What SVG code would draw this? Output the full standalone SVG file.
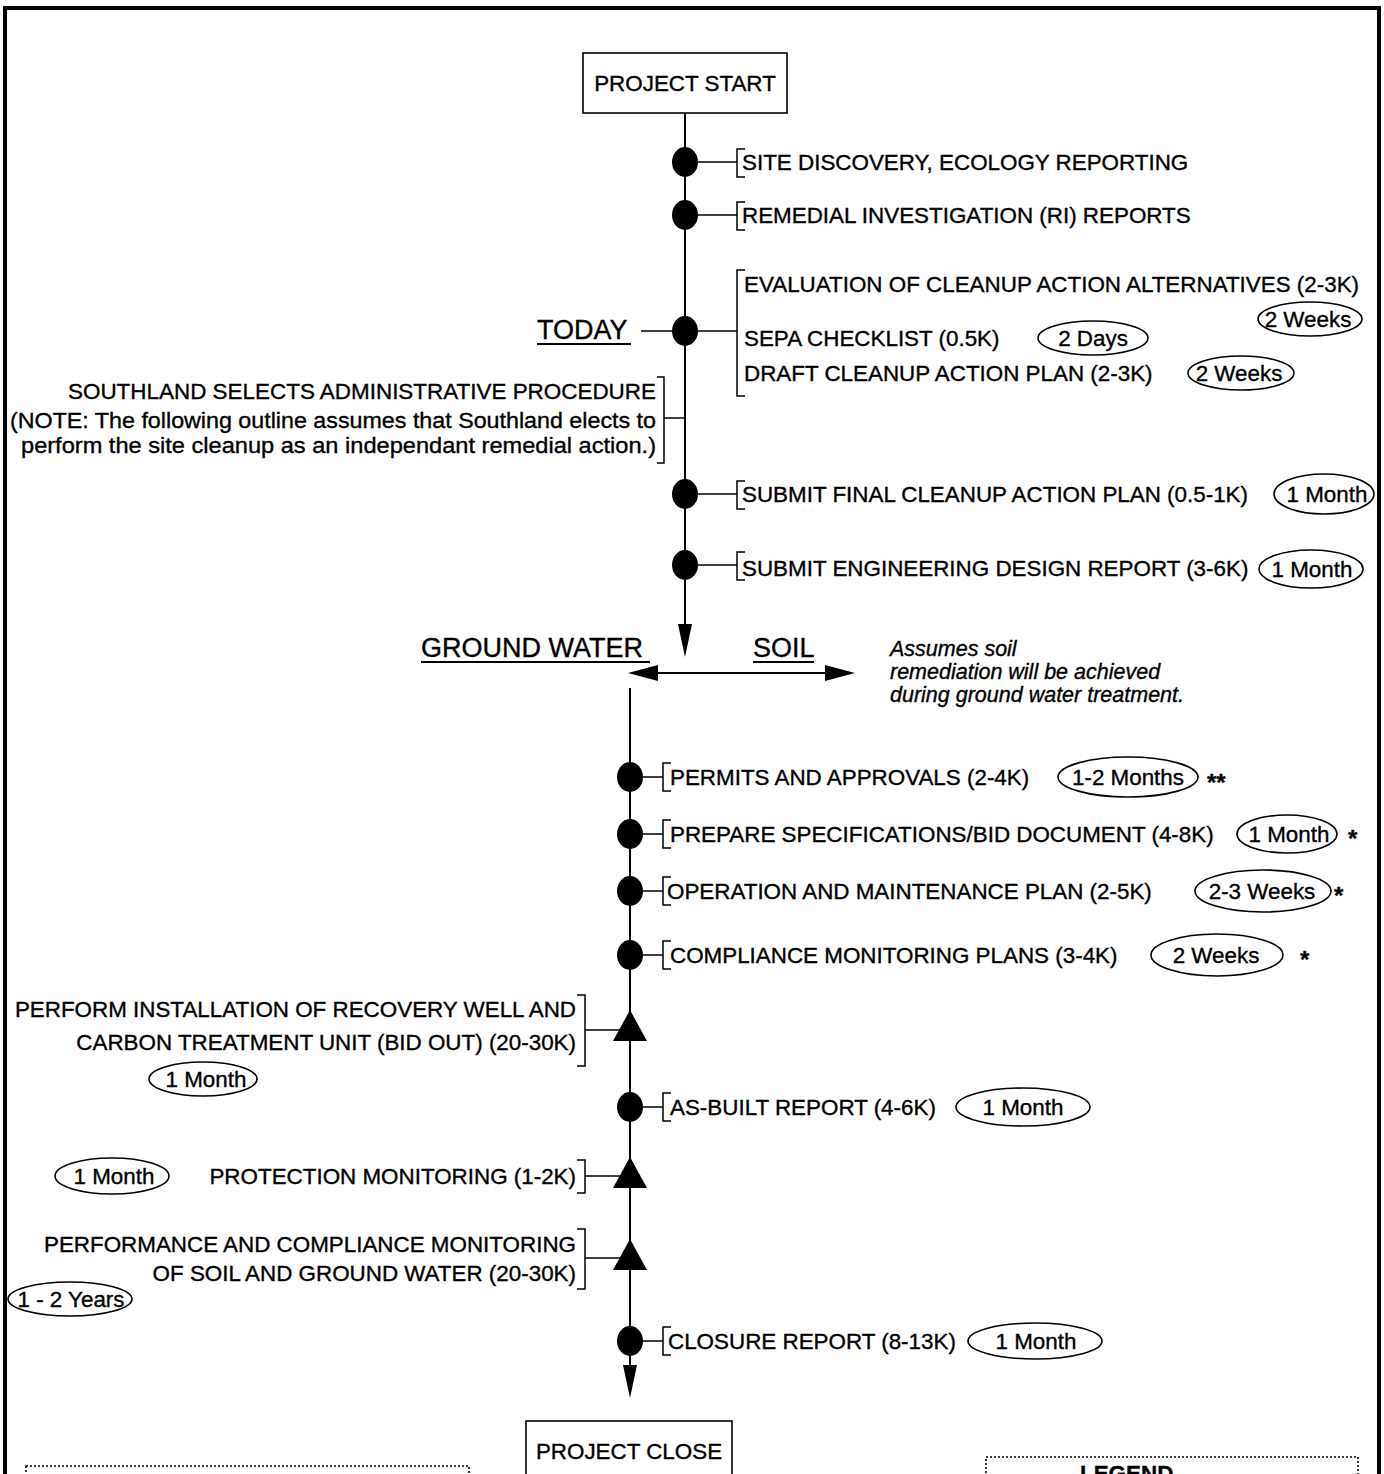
<svg xmlns="http://www.w3.org/2000/svg" width="1384" height="1474" viewBox="0 0 1384 1474">
<style>
.t{font-family:"Liberation Sans",Arial,Helvetica,sans-serif;font-size:22.4px;fill:#000;stroke:#000;stroke-width:0.35}
.i{font-style:italic;font-size:21.5px}
.h{font-size:27px}
.e{text-anchor:end}
.m{text-anchor:middle}
.s{font-weight:bold;font-size:24px}
.ln{stroke:#000;stroke-width:2;fill:none}
.thin{stroke:#000;stroke-width:1.5;fill:none}
.ov{fill:none;stroke:#000;stroke-width:1.6}
.dot{fill:#000}
.box{fill:#fff;stroke:#000;stroke-width:1.6}
.dotted{fill:none;stroke:#000;stroke-width:1.6;stroke-dasharray:2 2}
</style>
<rect width="1384" height="1474" fill="#fff"/>
<rect x="5" y="8" width="1374" height="1490" fill="none" stroke="#000" stroke-width="4"/>

<g id="connectors">
  <line class="ln" x1="685" y1="113" x2="685" y2="628"/>
  <polygon class="dot" points="678,624 692,624 685,657"/>
  <line class="ln" x1="655" y1="673" x2="828" y2="673"/>
  <polygon class="dot" points="628,673 658,665 658,681"/>
  <polygon class="dot" points="855,673 825,665 825,681"/>
  <line class="ln" x1="630" y1="688" x2="630" y2="1368"/>
  <polygon class="dot" points="623,1365 637,1365 630,1398"/>
  <line class="thin" x1="698" y1="162" x2="737" y2="162"/>
  <line class="thin" x1="698" y1="215" x2="737" y2="215"/>
  <line class="thin" x1="698" y1="331" x2="737" y2="331"/>
  <line class="thin" x1="641" y1="331" x2="672" y2="331"/>
  <line class="thin" x1="664" y1="418" x2="685" y2="418"/>
  <line class="thin" x1="698" y1="494" x2="737" y2="494"/>
  <line class="thin" x1="698" y1="565" x2="737" y2="565"/>
  <line class="thin" x1="643" y1="777" x2="663" y2="777"/>
  <line class="thin" x1="643" y1="834" x2="663" y2="834"/>
  <line class="thin" x1="643" y1="891" x2="663" y2="891"/>
  <line class="thin" x1="643" y1="955" x2="663" y2="955"/>
  <line class="thin" x1="585" y1="1030" x2="620" y2="1030"/>
  <line class="thin" x1="643" y1="1107" x2="663" y2="1107"/>
  <line class="thin" x1="585" y1="1176" x2="620" y2="1176"/>
  <line class="thin" x1="585" y1="1258" x2="620" y2="1258"/>
  <line class="thin" x1="643" y1="1341" x2="663" y2="1341"/>
</g>

<g id="project-start">
  <rect class="box" x="583" y="53" width="204" height="60"/>
  <text class="t m" x="685" y="91">PROJECT START</text>
</g>

<g id="site-discovery">
  <ellipse class="dot" cx="685" cy="162" rx="13" ry="15"/>
  <path class="thin" d="M745,149 H737 V177 H745"/>
  <text class="t" x="742" y="170">SITE DISCOVERY, ECOLOGY REPORTING</text>
</g>

<g id="remedial-investigation">
  <ellipse class="dot" cx="685" cy="215" rx="13" ry="15"/>
  <path class="thin" d="M745,202 H737 V230 H745"/>
  <text class="t" x="742" y="223">REMEDIAL INVESTIGATION (RI) REPORTS</text>
</g>

<g id="today">
  <ellipse class="dot" cx="685" cy="331" rx="13" ry="15"/>
  <text class="t h" x="537" y="339">TODAY</text>
  <line class="ln" x1="537" y1="344" x2="631" y2="344"/>
  <path class="thin" d="M745,270 H737 V396 H745"/>
  <text class="t" x="744" y="292">EVALUATION OF CLEANUP ACTION ALTERNATIVES  (2-3K)</text>
  <ellipse class="ov" cx="1310" cy="319" rx="52" ry="17"/>
  <text class="t m" x="1308" y="327">2 Weeks</text>
  <text class="t" x="744" y="346">SEPA CHECKLIST (0.5K)</text>
  <ellipse class="ov" cx="1093" cy="338" rx="55" ry="17"/>
  <text class="t m" x="1093" y="346">2 Days</text>
  <text class="t" x="744" y="381">DRAFT CLEANUP ACTION PLAN (2-3K)</text>
  <ellipse class="ov" cx="1241" cy="373" rx="53" ry="17"/>
  <text class="t m" x="1239" y="381">2 Weeks</text>
</g>

<g id="southland-procedure">
  <path class="thin" d="M657,377 H664 V463 H657"/>
  <text class="t e" x="656" y="399" textLength="588" lengthAdjust="spacingAndGlyphs">SOUTHLAND SELECTS ADMINISTRATIVE PROCEDURE</text>
  <text class="t e" x="656" y="428" textLength="646" lengthAdjust="spacingAndGlyphs">(NOTE: The following outline assumes that Southland elects to</text>
  <text class="t e" x="656" y="453" textLength="635" lengthAdjust="spacingAndGlyphs">perform the site cleanup as an independant remedial action.)</text>
</g>

<g id="submit-final-plan">
  <ellipse class="dot" cx="685" cy="494" rx="13" ry="15"/>
  <path class="thin" d="M745,481 H737 V509 H745"/>
  <text class="t" x="742" y="502">SUBMIT FINAL CLEANUP ACTION PLAN (0.5-1K)</text>
  <ellipse class="ov" cx="1324" cy="494" rx="50" ry="20"/>
  <text class="t m" x="1327" y="502">1 Month</text>
</g>

<g id="submit-engineering">
  <ellipse class="dot" cx="685" cy="565" rx="13" ry="15"/>
  <path class="thin" d="M745,552 H737 V580 H745"/>
  <text class="t" x="742" y="576">SUBMIT ENGINEERING DESIGN REPORT (3-6K)</text>
  <ellipse class="ov" cx="1311" cy="569" rx="52" ry="19"/>
  <text class="t m" x="1312" y="577">1 Month</text>
</g>

<g id="split">
  <text class="t h" x="421" y="657">GROUND WATER</text>
  <line class="ln" x1="421" y1="662" x2="650" y2="662"/>
  <text class="t h" x="753" y="657">SOIL</text>
  <line class="ln" x1="753" y1="662" x2="814" y2="662"/>
  <text class="t i" x="890" y="656">Assumes soil</text>
  <text class="t i" x="890" y="679">remediation will be achieved</text>
  <text class="t i" x="890" y="702">during ground water treatment.</text>
</g>

<g id="permits">
  <ellipse class="dot" cx="630" cy="777" rx="13" ry="15"/>
  <path class="thin" d="M671,763 H663 V791 H671"/>
  <text class="t" x="670" y="785">PERMITS AND APPROVALS (2-4K)</text>
  <ellipse class="ov" cx="1128" cy="777" rx="70" ry="20"/>
  <text class="t m" x="1128" y="785">1-2 Months</text>
  <text class="t s" x="1207" y="791">**</text>
</g>

<g id="specifications">
  <ellipse class="dot" cx="630" cy="834" rx="13" ry="15"/>
  <path class="thin" d="M671,820 H663 V848 H671"/>
  <text class="t" x="670" y="842">PREPARE SPECIFICATIONS/BID DOCUMENT (4-8K)</text>
  <ellipse class="ov" cx="1287" cy="834" rx="50" ry="19"/>
  <text class="t m" x="1289" y="842">1 Month</text>
  <text class="t s" x="1348" y="847">*</text>
</g>

<g id="om-plan">
  <ellipse class="dot" cx="630" cy="891" rx="13" ry="15"/>
  <path class="thin" d="M671,877 H663 V905 H671"/>
  <text class="t" x="667" y="899">OPERATION AND MAINTENANCE PLAN (2-5K)</text>
  <ellipse class="ov" cx="1263" cy="891" rx="68" ry="21"/>
  <text class="t m" x="1262" y="899">2-3 Weeks</text>
  <text class="t s" x="1334" y="904">*</text>
</g>

<g id="compliance-plans">
  <ellipse class="dot" cx="630" cy="955" rx="13" ry="15"/>
  <path class="thin" d="M671,941 H663 V969 H671"/>
  <text class="t" x="670" y="963">COMPLIANCE MONITORING PLANS (3-4K)</text>
  <ellipse class="ov" cx="1217" cy="955" rx="66" ry="21"/>
  <text class="t m" x="1216" y="963">2 Weeks</text>
  <text class="t s" x="1300" y="968">*</text>
</g>

<g id="installation">
  <polygon class="dot" points="630,1010 647,1041 613,1041"/>
  <path class="thin" d="M577,995 H585 V1066 H577"/>
  <text class="t e" x="576" y="1017">PERFORM INSTALLATION OF RECOVERY WELL AND</text>
  <text class="t e" x="576" y="1050">CARBON TREATMENT UNIT (BID OUT) (20-30K)</text>
  <ellipse class="ov" cx="203" cy="1079" rx="54" ry="17"/>
  <text class="t m" x="206" y="1087">1 Month</text>
</g>

<g id="as-built">
  <ellipse class="dot" cx="630" cy="1107" rx="13" ry="15"/>
  <path class="thin" d="M671,1093 H663 V1121 H671"/>
  <text class="t" x="670" y="1115">AS-BUILT REPORT (4-6K)</text>
  <ellipse class="ov" cx="1023" cy="1107" rx="67" ry="19"/>
  <text class="t m" x="1023" y="1115">1 Month</text>
</g>

<g id="protection-monitoring">
  <polygon class="dot" points="630,1157 647,1188 613,1188"/>
  <path class="thin" d="M577,1160 H585 V1193 H577"/>
  <text class="t e" x="576" y="1184">PROTECTION MONITORING (1-2K)</text>
  <ellipse class="ov" cx="112" cy="1176" rx="57" ry="18"/>
  <text class="t m" x="114" y="1184">1 Month</text>
</g>

<g id="performance-monitoring">
  <polygon class="dot" points="630,1239 647,1270 613,1270"/>
  <path class="thin" d="M577,1229 H585 V1289 H577"/>
  <text class="t e" x="576" y="1252">PERFORMANCE AND COMPLIANCE MONITORING</text>
  <text class="t e" x="576" y="1281">OF SOIL AND GROUND WATER (20-30K)</text>
  <ellipse class="ov" cx="70" cy="1299" rx="62" ry="17"/>
  <text class="t m" x="71" y="1307">1 - 2 Years</text>
</g>

<g id="closure-report">
  <ellipse class="dot" cx="630" cy="1341" rx="13" ry="15"/>
  <path class="thin" d="M671,1327 H663 V1355 H671"/>
  <text class="t" x="668" y="1349">CLOSURE REPORT (8-13K)</text>
  <ellipse class="ov" cx="1035" cy="1341" rx="67" ry="18"/>
  <text class="t m" x="1036" y="1349">1 Month</text>
</g>

<g id="project-close">
  <rect class="box" x="526" y="1421" width="206" height="80"/>
  <text class="t m" x="629" y="1459">PROJECT CLOSE</text>
</g>

<g id="notes-box">
  <rect class="dotted" x="26" y="1466" width="443" height="40"/>
</g>

<g id="legend">
  <rect class="dotted" x="986" y="1457" width="372" height="60"/>
  <text class="t" x="1080" y="1481" font-weight="bold">LEGEND</text>
</g>
</svg>
